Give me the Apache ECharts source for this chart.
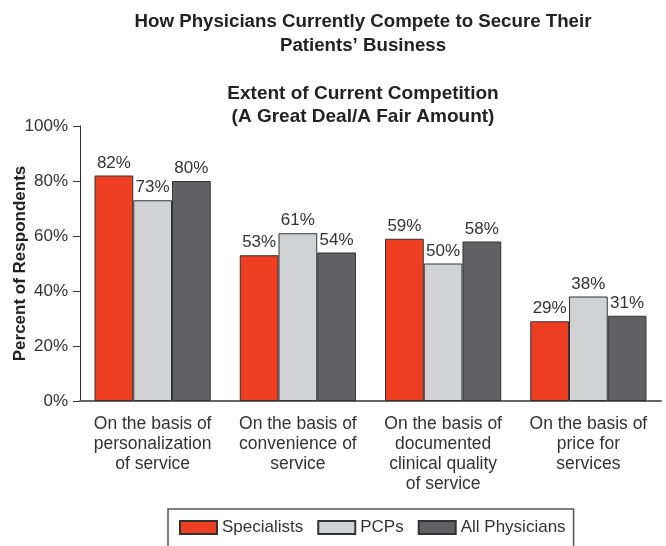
<!DOCTYPE html>
<html>
<head>
<meta charset="utf-8">
<script src="https://cdn.jsdelivr.net/npm/echarts@6/dist/echarts.min.js"></script>
<style>
html,body{margin:0;padding:0;background:#fff;}
#c{width:666px;height:546px;}
</style>
</head>
<body>
<div id="c"></div>
<script>
var categories = [
  "On the basis of\npersonalization\nof service",
  "On the basis of\nconvenience of\nservice",
  "On the basis of\ndocumented\nclinical quality\nof service",
  "On the basis of\nprice for\nservices"
];
var specialists = [82, 53, 59, 29];
var pcps = [73, 61, 50, 38];
var allPhysicians = [80, 54, 58, 31];
var seriesNames = ["Specialists", "PCPs", "All Physicians"];
var yTicks = [0, 20, 40, 60, 80, 100];

var colors = ["#EE3F23", "#D1D2D4", "#616163"];
var txt = "#333333";
var font = "Liberation Sans, Arial, sans-serif";
var titleFont = "Liberation Sans, Arial, sans-serif";

function mk(name, data, i) {
  return {
    name: name,
    type: "bar",
    data: data,
    barGap: "0%",
    barCategoryGap: "20%",
    itemStyle: { color: colors[i], borderColor: "#333333", borderWidth: 1 },
    label: {
      show: true, position: "top", distance: 4,
      formatter: "{c}%", color: txt, fontSize: 17, fontFamily: font
    }
  };
}

var chart = echarts.init(document.getElementById("c"), null, { renderer: "canvas" });
chart.setOption({
  animation: false,
  backgroundColor: "#ffffff",
  title: [
    {
      text: "How Physicians Currently Compete to Secure Their\nPatients\u2019 Business",
      left: 358, top: 5, textAlign: "center",
      textStyle: { fontFamily: titleFont, fontWeight: "bold", fontSize: 18.7, lineHeight: 24, color: "#222" }
    },
    {
      text: "Extent of Current Competition\n(A Great Deal/A Fair Amount)",
      left: 358, top: 77, textAlign: "center",
      textStyle: { fontFamily: titleFont, fontWeight: "bold", fontSize: 19, lineHeight: 23, color: "#222" }
    }
  ],
  legend: {
    data: seriesNames,
    left: 168, top: 509,
    padding: [10, 8, 14, 11],
    borderColor: "#555", borderWidth: 1.5,
    itemWidth: 37, itemHeight: 13, itemGap: 14,
    icon: "rect",
    textStyle: { fontFamily: font, fontSize: 17, color: txt }
  },
  grid: { left: 80, right: 5, top: 126, bottom: 145, containLabel: false, outerBoundsMode: "none" },
  xAxis: {
    type: "category",
    data: categories,
    axisLine: { lineStyle: { color: "#666", width: 2 } },
    axisTick: { show: false },
    axisLabel: { color: txt, fontSize: 17.5, fontFamily: font, lineHeight: 20, margin: 13, interval: 0 }
  },
  yAxis: {
    type: "value",
    min: yTicks[0], max: yTicks[yTicks.length - 1], interval: 20,
    name: "Percent of Respondents",
    nameLocation: "middle", nameGap: 51, nameMoveOverlap: false,
    nameTextStyle: { fontFamily: font, fontWeight: "bold", fontSize: 17, color: "#222" },
    axisLine: { show: true, lineStyle: { color: "#333", width: 1 } },
    axisTick: { show: true, length: 7, lineStyle: { color: "#333" } },
    splitLine: { show: false },
    axisLabel: { formatter: "{value}%", color: txt, fontSize: 17, fontFamily: font, margin: 12 }
  },
  series: [
    mk(seriesNames[0], specialists, 0),
    mk(seriesNames[1], pcps, 1),
    mk(seriesNames[2], allPhysicians, 2)
  ]
});
</script>
</body>
</html>
